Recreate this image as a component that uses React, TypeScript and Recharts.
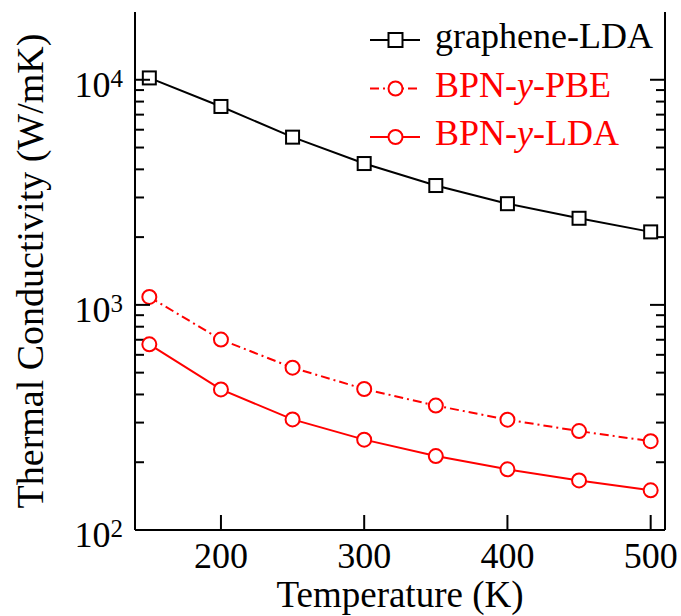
import React from 'react';
import { LineChart, Line, XAxis, YAxis, Legend, ReferenceLine } from 'recharts';

const temperatures = [150, 200, 250, 300, 350, 400, 450, 500];
const grapheneLDA = [10190, 7610, 5560, 4245, 3390, 2815, 2425, 2110];
const bpnPBE = [1085, 701, 526, 423, 357, 309, 275, 248];
const bpnLDA = [668, 421, 310, 252, 213, 186, 166, 150];

const xTicks = [200, 300, 400, 500];
const yMajorTicks = [100, 1000, 10000];
const yMinorTicks = [200, 300, 400, 500, 600, 700, 800, 900, 2000, 3000, 4000, 5000, 6000, 7000, 8000, 9000];
const xDomain = [140, 510];
const yDomain = [100, 20000];

const seriesNames = ['graphene-LDA', 'BPN-y-PBE', 'BPN-y-LDA'];
const seriesColors = ['#000000', '#ff0000', '#ff0000'];
const seriesDashes = [undefined, '9 4 2 4', undefined];
const seriesShapes = ['square', 'circle', 'circle'];
const seriesKeys = ['g', 'pbe', 'lda'];

const data = temperatures.map((t, i) => ({ t, g: grapheneLDA[i], pbe: bpnPBE[i], lda: bpnLDA[i] }));

const FONT = '"Liberation Serif", "Times New Roman", serif';
const W = 681;
const H = 616;
const LEFT_W = 135;
const RIGHT_W = 16;
const PLOT_W = W - LEFT_W - RIGHT_W;
const MINOR_LEN_PX = 9;
const minorLenX = (MINOR_LEN_PX * (xDomain[1] - xDomain[0])) / PLOT_W;

const LeftTick = (props: any) => {
  const { x, y, payload } = props;
  const exp = Math.round(Math.log10(Number(payload.value)));
  return (
    <g>
      <line x1={x} x2={x + 15} y1={y} y2={y} stroke="#000" strokeWidth={2} />
      <text x={x - 12} y={y + 17} textAnchor="end" fontFamily={FONT} fontSize={36} fill="#000">
        <tspan>10</tspan>
        <tspan dy={-10} fontSize={25}>{exp}</tspan>
      </text>
    </g>
  );
};

const RightTick = (props: any) => {
  const { x, y } = props;
  return <line x1={x} x2={x - 15} y1={y} y2={y} stroke="#000" strokeWidth={2} />;
};

const BottomTick = (props: any) => {
  const { x, y, payload } = props;
  return (
    <g>
      <line x1={x} x2={x} y1={y} y2={y - 15} stroke="#000" strokeWidth={2} />
      <text x={x} y={y + 38} textAnchor="middle" fontFamily={FONT} fontSize={36} fill="#000">
        {payload.value}
      </text>
    </g>
  );
};

const XLabel = (props: any) => {
  const { viewBox } = props;
  const cx = viewBox.x + viewBox.width / 2;
  return (
    <text x={cx} y={viewBox.y + 77} textAnchor="middle" fontFamily={FONT} fontSize={37} fill="#000">
      Temperature (K)
    </text>
  );
};

const YLabel = (props: any) => {
  const { viewBox } = props;
  const lx = viewBox.x + 43;
  const ly = viewBox.y + viewBox.height / 2;
  return (
    <text x={lx} y={ly} transform={`rotate(-90, ${lx}, ${ly})`} textAnchor="middle" fontFamily={FONT} fontSize={38} fill="#000">
      Thermal Conductivity (W/mK)
    </text>
  );
};

const SquareDot = (props: any) => {
  const { cx, cy, index } = props;
  if (cx == null || cy == null) return <g key={`sq-${index}`} />;
  return <rect key={`sq-${index}`} x={cx - 6.5} y={cy - 6.5} width={13} height={13} fill="#fff" stroke="#000" strokeWidth={2} strokeDasharray="none" />;
};

const renderName = (name: string) => {
  const parts = name.split('-y-');
  if (parts.length === 2) {
    return (
      <>
        <tspan>{parts[0]}-</tspan>
        <tspan fontStyle="italic">y</tspan>
        <tspan>-{parts[1]}</tspan>
      </>
    );
  }
  return name;
};

const LegendContent = () => (
  <svg width={320} height={170}>
    {seriesNames.map((name, i) => {
      const cy = 40 + 48.5 * i;
      const color = seriesColors[i];
      return (
        <g key={name}>
          <line x1={10} x2={60} y1={cy} y2={cy} stroke={color} strokeWidth={2} strokeDasharray={seriesDashes[i]} />
          {seriesShapes[i] === 'square' ? (
            <rect x={35.5 - 7} y={cy - 7} width={14} height={14} fill="#fff" stroke={color} strokeWidth={2} />
          ) : (
            <circle cx={35.5} cy={cy} r={7} fill="#fff" stroke={color} strokeWidth={2} />
          )}
          <text x={75} y={cy + 8} fontFamily={FONT} fontSize={36} fill={color}>
            {renderName(name)}
          </text>
        </g>
      );
    })}
  </svg>
);

export default function App() {
  return (
    <div style={{ position: 'absolute', left: 0, top: 0, width: W, height: H, background: '#fff' }}>
      <LineChart width={W} height={H} data={data} margin={{ top: 12, right: 0, bottom: 0, left: 0 }}>
        <XAxis
          xAxisId="bottom"
          dataKey="t"
          type="number"
          domain={xDomain}
          ticks={xTicks}
          allowDataOverflow
          height={86}
          tickSize={0}
          tickMargin={0}
          interval={0}
          tick={<BottomTick />}
          axisLine={{ stroke: '#000', strokeWidth: 2 }}
          label={<XLabel />}
        />
        <XAxis
          xAxisId="top"
          dataKey="t"
          type="number"
          domain={xDomain}
          orientation="top"
          allowDataOverflow
          height={0}
          tick={false}
          tickLine={false}
          axisLine={{ stroke: '#000', strokeWidth: 2 }}
        />
        <YAxis
          yAxisId="left"
          scale="log"
          type="number"
          domain={yDomain}
          ticks={yMajorTicks}
          allowDataOverflow
          width={LEFT_W}
          tickSize={0}
          tickMargin={0}
          interval={0}
          tick={<LeftTick />}
          axisLine={{ stroke: '#000', strokeWidth: 2 }}
          label={<YLabel />}
        />
        <YAxis
          yAxisId="right"
          orientation="right"
          scale="log"
          type="number"
          domain={yDomain}
          ticks={yMajorTicks}
          allowDataOverflow
          width={RIGHT_W}
          tickSize={0}
          tickMargin={0}
          interval={0}
          tick={<RightTick />}
          axisLine={{ stroke: '#000', strokeWidth: 2 }}
        />
        {yMinorTicks.map((v) => (
          <ReferenceLine
            key={`ml-${v}`}
            xAxisId="bottom"
            yAxisId="left"
            segment={[{ x: xDomain[0], y: v }, { x: xDomain[0] + minorLenX, y: v }]}
            stroke="#000"
            strokeWidth={2}
          />
        ))}
        {yMinorTicks.map((v) => (
          <ReferenceLine
            key={`mr-${v}`}
            xAxisId="bottom"
            yAxisId="left"
            segment={[{ x: xDomain[1] - minorLenX, y: v }, { x: xDomain[1], y: v }]}
            stroke="#000"
            strokeWidth={2}
          />
        ))}
        <Legend layout="vertical" align="center" verticalAlign="middle" content={<LegendContent />} wrapperStyle={{ left: 360, top: 0, width: 320, height: 170 }} />
        {seriesKeys.map((k, i) => (
          <Line
            key={k}
            xAxisId="bottom"
            yAxisId="left"
            dataKey={k}
            name={seriesNames[i]}
            stroke={seriesColors[i]}
            strokeWidth={2}
            strokeDasharray={seriesDashes[i]}
            isAnimationActive={false}
            dot={seriesShapes[i] === 'square' ? <SquareDot /> : { r: 7, fill: '#fff', stroke: seriesColors[i], strokeWidth: 2, strokeDasharray: 'none' }}
            activeDot={false}
          />
        ))}
      </LineChart>
    </div>
  );
}
